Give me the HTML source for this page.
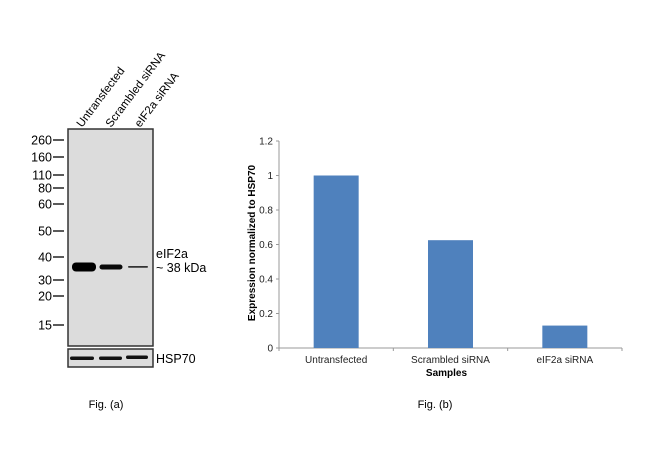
<!DOCTYPE html>
<html><head><meta charset="utf-8"><style>
body{margin:0;background:#fff;}
svg text{font-family:"Liberation Sans",Arial,sans-serif;}
</style></head><body>
<svg width="650" height="454" viewBox="0 0 650 454">
<g>
 <rect x="68" y="129" width="85" height="217" fill="#dcdcdc" stroke="#333" stroke-width="1.5"/>
 <rect x="68" y="349" width="85" height="18" fill="#dcdcdc" stroke="#333" stroke-width="1.5"/>
 <g id="markers"></g>
 <rect x="72" y="262.5" width="24" height="9" rx="4" fill="#000"/>
 <rect x="99.5" y="264.5" width="23" height="5" rx="2.5" fill="#0a0a0a"/>
 <rect x="128" y="266" width="20" height="1.8" rx="0.9" fill="#333"/>
 <rect x="70" y="356.5" width="24" height="3.5" rx="1.7" fill="#111"/>
 <rect x="99" y="356.5" width="23" height="3.5" rx="1.7" fill="#111"/>
 <rect x="126" y="355.5" width="22" height="3.5" rx="1.7" fill="#111"/>
 <text x="82" y="128" font-size="11.5" transform="rotate(-53 82 128)">Untransfected</text>
 <text x="111" y="128" font-size="11.5" transform="rotate(-53 111 128)">Scrambled siRNA</text>
 <text x="140" y="128" font-size="11.5" transform="rotate(-53 140 128)">eIF2a siRNA</text>
 <text x="156" y="258" font-size="12.5">eIF2a</text>
 <text x="156" y="272" font-size="12.5">~ 38 kDa</text>
 <text x="156" y="363" font-size="12.5">HSP70</text>
 <text x="106" y="408" font-size="11" text-anchor="middle">Fig. (a)</text>
</g>
<g id="chart">
 <text x="435" y="408" font-size="11" text-anchor="middle">Fig. (b)</text>
</g>
<script>
const markerLabels=["260","160","110","80","60","50","40","30","20","15"];
const markerY=[140,157,175,188,204,231,257,280,296,325];
const categories=["Untransfected","Scrambled siRNA","eIF2a siRNA"];
const values=[1.0,0.625,0.13];
const yTicks=[0,0.2,0.4,0.6,0.8,1,1.2];
const NS="http://www.w3.org/2000/svg";
function mk(p,t,a){const e=document.createElementNS(NS,t);for(const k in a)e.setAttribute(k,a[k]);p.appendChild(e);return e;}
const mg=document.getElementById('markers');
markerLabels.forEach((l,i)=>{
 const y=markerY[i];
 const ln=mk(mg,'line',{x1:53,x2:64,y1:y,y2:y,stroke:'#222','stroke-width':1.5});
 
 
 const t=mk(mg,'text',{x:52,y:y+4.5,'font-size':12.5,'text-anchor':'end'});
 
 
 t.textContent=l;
});
const g=document.getElementById('chart');
const x0=279,x1=622,yb=348,yt=141,ymax=1.2;
const Y=v=>yb-(v/ymax)*(yb-yt);
const cw=(x1-x0)/categories.length;
const ax=mk(g,'line',{x1:x0,x2:x0,y1:yt,y2:yb,stroke:'#999'});


const bx=mk(g,'line',{x1:x0,x2:x1,y1:yb,y2:yb,stroke:'#999'});


yTicks.forEach(v=>{
 const y=Y(v);
 const tk=mk(g,'line',{x1:x0-3,x2:x0,y1:y,y2:y,stroke:'#999'});
 
 
 const t=mk(g,'text',{x:x0-6,y:y+3.5,'font-size':10,'text-anchor':'end',fill:'#222'});
 
 
 t.textContent=String(v);
});
for(let i=0;i<=categories.length;i++){
 const x=x0+i*cw;
 const tk=mk(g,'line',{x1:x,x2:x,y1:yb,y2:yb+3,stroke:'#999'});
 
 
}
categories.forEach((c,i)=>{
 const cx=x0+(i+0.5)*cw, bw=45;
 const r=mk(g,'rect',{x:cx-bw/2,y:Y(values[i]),width:bw,height:yb-Y(values[i]),fill:'#4f81bd'});
 
 
 const t=mk(g,'text',{x:cx,y:yb+15,'font-size':10,'text-anchor':'middle',fill:'#222'});
 
 
 t.textContent=c;
});
const xt=mk(g,'text',{x:(x0+x1)/2-4,y:yb+28,'font-size':10,'font-weight':'bold','text-anchor':'middle'});


xt.textContent='Samples';
const yt2=mk(g,'text',{x:0,y:0,'font-size':10,'font-weight':'bold','text-anchor':'middle',transform:'translate(255,243) rotate(-90)'});


yt2.textContent='Expression  normalized to HSP70';
</script>
</svg>
</body></html>
